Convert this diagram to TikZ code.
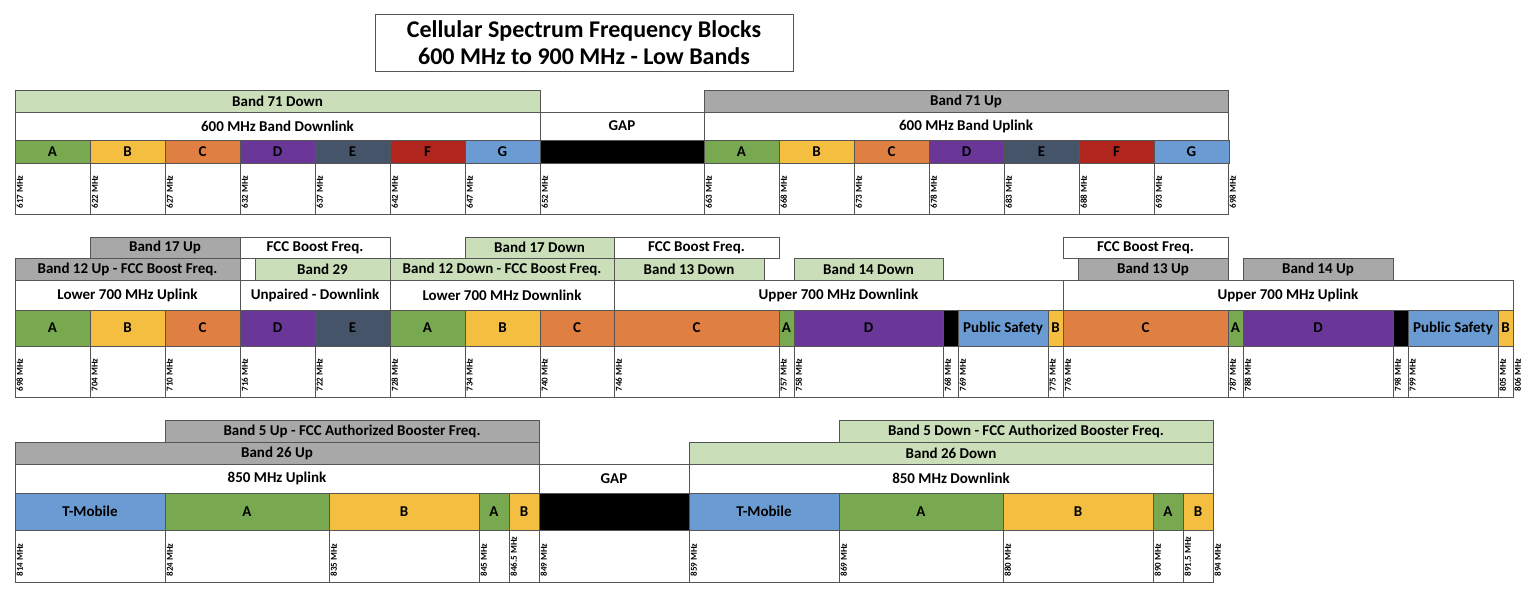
\documentclass[tikz,border=0pt]{standalone}
\usepackage{fontspec}
\setmainfont{Carlito}
\usetikzlibrary{positioning}

\definecolor{bandA}{HTML}{78A850}
\definecolor{bandB}{HTML}{F4BE41}
\definecolor{bandC}{HTML}{E07F42}
\definecolor{bandD}{HTML}{6A3799}
\definecolor{bandE}{HTML}{46546A}
\definecolor{bandF}{HTML}{B0261E}
\definecolor{bandG}{HTML}{6A9BD2}
\definecolor{upgray}{HTML}{A8A8A8}
\definecolor{downgreen}{HTML}{CADFB9}
\definecolor{edge}{HTML}{555555}

% block from x1 to x2, y1 to y2
\newcommand{\blk}[7]{%
  \node[cell, #6, minimum width={((#3)-(#2))*1pt}, minimum height={((#5)-(#4))*1pt}]
    (#1) at ({((#2)+(#3))/2},{((#4)+(#5))/2}) {#7};}

\begin{document}
\begin{tikzpicture}[
    x=1pt, y=-1pt,
    cell/.style={rectangle, draw=edge, line width=0.8pt, inner sep=0pt, font=\bfseries\fontsize{15}{15}\selectfont},
    up/.style={fill=upgray},
    down/.style={fill=downgreen},
    plain/.style={fill=white},
    gap/.style={fill=black},
    freq/.style={rotate=90, anchor=north west, inner sep=1.5pt, font=\bfseries\fontsize{9}{9}\selectfont}
]
\useasboundingbox (0,0) rectangle (1536,597);

% Title
\node[cell, align=center, minimum width=418pt, minimum height=57pt, font=\bfseries\fontsize{24}{27}\selectfont]
  (title) at (584,42.5) {Cellular Spectrum Frequency Blocks\\600 MHz to 900 MHz - Low Bands};

% 600 MHz
\blk{b71d}{15}{540}{90}{112}{down}{Band 71 Down}
\blk{b71u}{704}{1228}{90}{112}{up}{Band 71 Up}
\blk{dl600}{15}{540}{112}{140}{plain}{600 MHz Band Downlink}
\blk{gap600}{540}{704}{112}{140}{plain}{GAP}
\blk{ul600}{704}{1228}{112}{140}{plain}{600 MHz Band Uplink}
\foreach \s/\l/\c [count=\i] in {15/A/bandA,90/B/bandB,165/C/bandC,240/D/bandD,315/E/bandE,390/F/bandF,465/G/bandG}{
  \blk{dn\i}{\s}{\s+75}{140}{163}{fill=\c}{\l}
  \blk{un\i}{\s+689}{\s+764}{140}{163}{fill=\c}{\l}
}
\blk{gapblk600}{540}{704}{140}{163}{gap}{}
\blk{fr600}{15}{1228}{163}{214}{plain}{}
\foreach \x/\f in {15/617,90/622,165/627,240/632,315/637,390/642,465/647,540/652,704/663,779/668,854/673,929/678,1004/683,1079/688,1154/693,1228/698}{
  \draw[edge, line width=0.8pt] (\x,163) -- (\x,214);
  \node[freq] (fa\x) at (\x,210) {\f~MHz};
}

% 700 MHz
\blk{b17u}{90}{240}{237}{258}{up}{Band 17 Up}
\blk{fcc1}{240}{390}{237}{258}{plain}{FCC Boost Freq.}
\blk{b17d}{465}{614}{237}{258}{down}{Band 17 Down}
\blk{fcc2}{614}{779}{237}{258}{plain}{FCC Boost Freq.}
\blk{fcc3}{1063}{1228}{237}{258}{plain}{FCC Boost Freq.}
\blk{b12u}{15}{240}{258}{280}{up}{Band 12 Up - FCC Boost Freq.}
\blk{b29}{255}{390}{258}{280}{down}{Band 29}
\blk{b12d}{390}{614}{258}{280}{down}{Band 12 Down - FCC Boost Freq.}
\blk{b13d}{614}{764}{258}{280}{down}{Band 13 Down}
\blk{b14d}{794}{943}{258}{280}{down}{Band 14 Down}
\blk{b13u}{1078}{1228}{258}{280}{up}{Band 13 Up}
\blk{b14u}{1243}{1393}{258}{280}{up}{Band 14 Up}
\blk{lul}{15}{240}{280}{310}{plain}{Lower 700 MHz Uplink}
\blk{unp}{240}{390}{280}{310}{plain}{Unpaired - Downlink}
\blk{ldl}{390}{614}{280}{310}{plain}{Lower 700 MHz Downlink}
\blk{udl}{614}{1063}{280}{310}{plain}{Upper 700 MHz Downlink}
\blk{uul}{1063}{1513}{280}{310}{plain}{Upper 700 MHz Uplink}
\foreach \a/\b/\c/\l [count=\i] in {15/90/bandA/A,90/165/bandB/B,165/240/bandC/C,240/315/bandD/D,315/390/bandE/E,
    390/465/bandA/A,465/540/bandB/B,540/614/bandC/C,614/779/bandC/C,779/794/bandA/A,794/943/bandD/D,943/958/black/,
    958/1048/bandG/Public Safety,1048/1063/bandB/B,1063/1228/bandC/C,1228/1243/bandA/A,1243/1393/bandD/D,
    1393/1408/black/,1408/1498/bandG/Public Safety,1498/1513/bandB/B}{
  \blk{lo\i}{\a}{\b}{310}{346}{fill=\c}{\l}
}
\blk{fr700}{15}{1513}{346}{397}{plain}{}
\foreach \x/\f in {15/698,90/704,165/710,240/716,315/722,390/728,465/734,540/740,614/746,779/757,794/758,
    943/768,958/769,1048/775,1063/776,1228/787,1243/788,1393/798,1408/799,1498/805,1513/806}{
  \draw[edge, line width=0.8pt] (\x,346) -- (\x,397);
  \node[freq] (fb\x) at (\x,393) {\f~MHz};
}

% 850 MHz
\blk{b5u}{165}{539}{420}{442}{up}{Band 5 Up - FCC Authorized Booster Freq.}
\blk{b5d}{839}{1213}{420}{442}{down}{Band 5 Down - FCC Authorized Booster Freq.}
\blk{b26u}{15}{539}{442}{464}{up}{Band 26 Up}
\blk{b26d}{689}{1213}{442}{464}{down}{Band 26 Down}
\blk{ul850}{15}{539}{464}{493}{plain}{850 MHz Uplink}
\blk{gap850}{539}{689}{464}{493}{plain}{GAP}
\blk{dl850}{689}{1213}{464}{493}{plain}{850 MHz Downlink}
\foreach \a/\b/\c/\l [count=\i] in {15/165/bandG/T-Mobile,165/329/bandA/A,329/479/bandB/B,479/509/bandA/A,509/539/bandB/B,
    539/689/black/,689/839/bandG/T-Mobile,839/1003/bandA/A,1003/1153/bandB/B,1153/1183/bandA/A,1183/1213/bandB/B}{
  \blk{ce\i}{\a}{\b}{493}{530}{fill=\c}{\l}
}
\blk{fr850}{15}{1213}{530}{582}{plain}{}
\foreach \x/\f [count=\i] in {15/814,165/824,329/835,479/845,509/846.5,539/849,689/859,839/869,1003/880,1153/890,1183/891.5,1213/894}{
  \draw[edge, line width=0.8pt] (\x,530) -- (\x,582);
  \node[freq] (fc\i) at (\x,578) {\f~MHz};
}
\end{tikzpicture}
\end{document}
